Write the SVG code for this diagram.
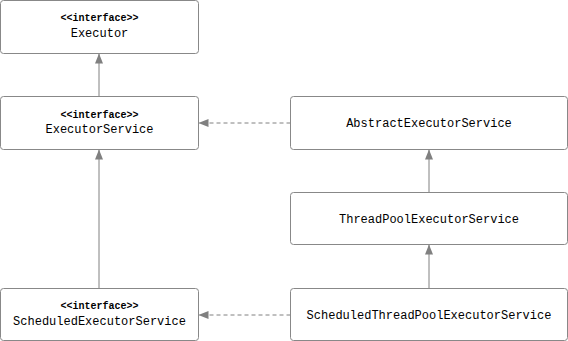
<svg xmlns="http://www.w3.org/2000/svg" width="568" height="341" viewBox="0 0 568 341">
<style>
.box{fill:#ffffff;stroke:#888888;stroke-width:1}
.t{font-family:"Liberation Mono","DejaVu Sans Mono",monospace;font-size:12px;fill:#000;text-anchor:middle}
.s{font-family:"Liberation Mono","DejaVu Sans Mono",monospace;font-size:10px;font-weight:bold;fill:#000;text-anchor:middle}
.c{stroke:#808080;stroke-width:1;fill:none}
.d{stroke-dasharray:4,3}
</style>
<defs>
<marker id="ah" viewBox="0 0 10 10" refX="10" refY="5" markerWidth="10" markerHeight="10" markerUnits="userSpaceOnUse" orient="auto">
<path d="M0,1 L10,5 L0,9 Z" fill="#808080"/>
</marker>
</defs>
<rect width="568" height="341" fill="#ffffff"/>
<g id="connectors">
<line class="c" x1="99" y1="96.5" x2="99" y2="53.5" marker-end="url(#ah)"/>
<line class="c" x1="99" y1="288.5" x2="99" y2="149.5" marker-end="url(#ah)"/>
<line class="c d" x1="290.5" y1="123" x2="198.5" y2="123" marker-end="url(#ah)"/>
<line class="c d" x1="290.5" y1="315" x2="198.5" y2="315" marker-end="url(#ah)"/>
<line class="c" x1="429" y1="192.5" x2="429" y2="149.5" marker-end="url(#ah)"/>
<line class="c" x1="429" y1="288.5" x2="429" y2="244.5" marker-end="url(#ah)"/>
</g>
<g id="executor">
<rect class="box" x="0.5" y="0.5" width="198" height="53" rx="3"/>
<text class="s" x="99.5" y="21">&lt;&lt;interface&gt;&gt;</text>
<text class="t" x="99.5" y="37">Executor</text>
</g>
<g id="executorService">
<rect class="box" x="0.5" y="96.5" width="198" height="53" rx="3"/>
<text class="s" x="99.5" y="118">&lt;&lt;interface&gt;&gt;</text>
<text class="t" x="99.5" y="133">ExecutorService</text>
</g>
<g id="abstractExecutorService">
<rect class="box" x="290.5" y="96.5" width="277" height="53" rx="3"/>
<text class="t" x="429" y="127">AbstractExecutorService</text>
</g>
<g id="threadPoolExecutorService">
<rect class="box" x="290.5" y="192.5" width="277" height="52" rx="3"/>
<text class="t" x="429" y="223">ThreadPoolExecutorService</text>
</g>
<g id="scheduledExecutorService">
<rect class="box" x="0.5" y="288.5" width="198" height="52" rx="3"/>
<text class="s" x="99.5" y="309">&lt;&lt;interface&gt;&gt;</text>
<text class="t" x="99.5" y="325">ScheduledExecutorService</text>
</g>
<g id="scheduledThreadPoolExecutorService">
<rect class="box" x="290.5" y="288.5" width="277" height="52" rx="3"/>
<text class="t" x="429" y="319">ScheduledThreadPoolExecutorService</text>
</g>
</svg>
